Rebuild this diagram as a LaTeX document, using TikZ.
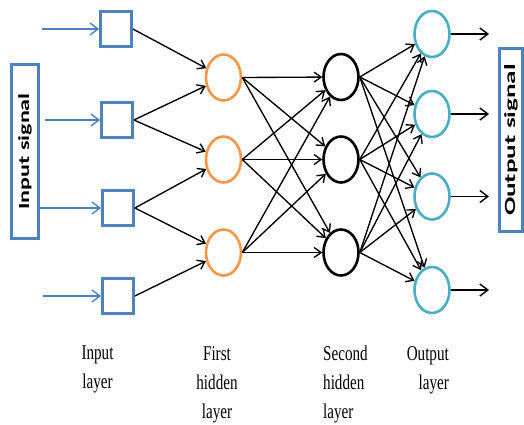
\documentclass[tikz,border=0pt]{standalone}
\usepackage{fontspec}
\usetikzlibrary{arrows.meta,shapes.geometric}
\newfontfamily\lblfont{Liberation Serif}[FakeStretch=0.72]
\newfontfamily\sigfont{Carlito}[FakeStretch=1.55]
\newfontfamily\sigfontwide{Carlito}[FakeStretch=1.75]
\definecolor{boxblue}{HTML}{4F81BD}
\definecolor{hidorange}{HTML}{F79646}
\definecolor{outcyan}{HTML}{4BACC6}
\tikzset{
  insq/.style={draw=boxblue, line width=2.8pt, minimum width=31pt, minimum height=35pt, inner sep=0pt},
  neuron/.style={ellipse, line width=2.6pt, minimum width=35pt, minimum height=46pt, inner sep=0pt},
  hidA/.style={neuron, draw=hidorange},
  hidB/.style={neuron, draw=black},
  outn/.style={neuron, draw=outcyan},
  conn/.style={line width=1.35pt, -{Straight Barb[length=7pt,width=10pt]}},
  inarr/.style={draw=boxblue, line width=1.4pt, -{Straight Barb[length=8pt,width=12pt]}},
  outarr/.style={line width=1.4pt, -{Straight Barb[length=8pt,width=12pt]}},
  sigbox/.style={draw=boxblue, line width=3pt, inner sep=0pt, rotate=90},
  lbl/.style={inner sep=0pt, font=\lblfont\fontsize{21}{29}\selectfont}
}
\begin{document}
\begin{tikzpicture}[x=1pt,y=-1pt]
\useasboundingbox (0,0) rectangle (524,425);
% signal boxes
\node[sigbox, minimum width=174pt, minimum height=27pt, font=\sigfont\bfseries\fontsize{15.5}{17}\selectfont] (insig) at (25,151.5) {Input signal};
\node[sigbox, minimum width=183pt, minimum height=23pt, font=\sigfontwide\bfseries\fontsize{15.5}{17}\selectfont] (outsig) at (511,140) {Output signal};
% input layer
\node[insq] (in1) at (116,29) {};
\node[insq] (in2) at (117,120) {};
\node[insq] (in3) at (118,208) {};
\node[insq] (in4) at (118,296) {};
% hidden layers
\node[hidA] (h11) at (223.5,77.5) {};
\node[hidA] (h12) at (223.5,159.5) {};
\node[hidA] (h13) at (223.5,252.5) {};
\node[hidB] (h21) at (341,77) {};
\node[hidB] (h22) at (341,159.5) {};
\node[hidB] (h23) at (341,252.5) {};
% output layer
\node[outn] (o1) at (432,34) {};
\node[outn] (o2) at (432,114) {};
\node[outn] (o3) at (432,196.5) {};
\node[outn] (o4) at (432,290) {};
% free ends
\coordinate (s1) at (42,29);
\coordinate (s2) at (45,120);
\coordinate (s3) at (40,208);
\coordinate (s4) at (43,296);
\coordinate (e1) at (489,34);
\coordinate (e2) at (489,114);
\coordinate (e3) at (489,196.5);
\coordinate (e4) at (489,290);
\foreach \i in {1,2,3,4} {
  \draw[inarr] (s\i) -- (in\i.west);
  \draw[outarr] (o\i.east) -- (e\i);
}
\foreach \i/\j in {1/1,2/1,2/2,3/2,3/3,4/3}
  \draw[conn] (in\i.east) -- (h1\j);
\foreach \i in {1,2,3}
  \foreach \j in {1,2,3}
    \draw[conn] (h1\i.east) -- (h2\j);
\foreach \i in {1,2,3}
  \foreach \j in {1,2,3,4}
    \draw[conn] (h2\i.east) -- (o\j);
% labels
\node[lbl, align=center, anchor=north] (lin) at (97.5,346) {Input\\layer};
\node[lbl, align=center, anchor=north] (lh1) at (217,346) {First\\hidden\\layer};
\node[lbl, align=left, anchor=north west] (lh2) at (323,346) {Second\\hidden\\layer};
\node[lbl, align=right, anchor=north east] (lout) at (449,346) {Output\\layer};
\end{tikzpicture}
\end{document}
